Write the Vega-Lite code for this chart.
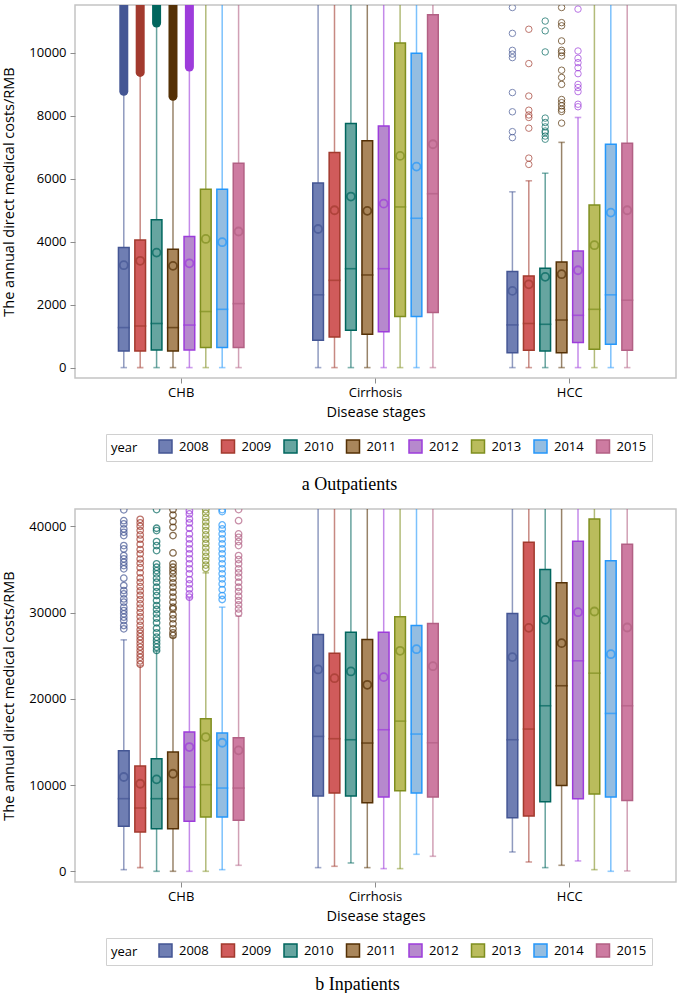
{
  "$schema": "https://vega.github.io/schema/vega-lite/v6.json",
  "padding": {"left": 1, "top": 4, "right": 5, "bottom": 0},
  "background": "white",
  "config": {
    "view": {"stroke": "#c4c4c4", "strokeWidth": 1.5},
    "axis": {
      "labelFont": "Open Sans", "labelFontSize": 13, "labelColor": "#000",
      "titleFont": "Open Sans", "titleFontSize": 14.5, "titleFontWeight": "normal", "titleColor": "#000",
      "grid": false, "domain": false, "tickColor": "#8c8c8c", "tickSize": 5, "tickWidth": 1
    },
    "legend": {
      "direction": "horizontal", "titleOrient": "left",
      "symbolType": "square", "symbolSize": 169, "symbolStrokeWidth": 1.5, "symbolOpacity": 1,
      "labelFont": "Open Sans", "labelFontSize": 13, "labelColor": "#000",
      "titleFont": "Open Sans", "titleFontSize": 13, "titleFontWeight": "normal", "titleColor": "#000",
      "strokeColor": "#d0d0d0", "padding": 5, "columnPadding": 9.5, "labelOffset": 6, "titlePadding": 20
    },
    "title": {"font": "Liberation Serif", "fontSize": 18, "fontWeight": "normal", "color": "#000"}
  },
  "datasets": {
    "out_box": [
      {"stage": "CHB", "year": "2008", "low": 0, "q1": 530, "median": 1270, "q3": 3810, "high": 8770, "mean": 3250},
      {"stage": "CHB", "year": "2009", "low": 0, "q1": 530, "median": 1320, "q3": 4050, "high": 9370, "mean": 3390},
      {"stage": "CHB", "year": "2010", "low": 0, "q1": 560, "median": 1400, "q3": 4690, "high": 10940, "mean": 3650},
      {"stage": "CHB", "year": "2011", "low": 0, "q1": 530, "median": 1270, "q3": 3760, "high": 8610, "mean": 3230},
      {"stage": "CHB", "year": "2012", "low": 0, "q1": 560, "median": 1350, "q3": 4160, "high": 9540, "mean": 3310},
      {"stage": "CHB", "year": "2013", "low": 0, "q1": 635, "median": 1780, "q3": 5660, "high": 13000, "mean": 4085},
      {"stage": "CHB", "year": "2014", "low": 0, "q1": 635, "median": 1850, "q3": 5660, "high": 13000, "mean": 3980},
      {"stage": "CHB", "year": "2015", "low": 0, "q1": 635, "median": 2030, "q3": 6490, "high": 13000, "mean": 4320},
      {"stage": "Cirrhosis", "year": "2008", "low": 0, "q1": 870, "median": 2310, "q3": 5860, "high": 13000, "mean": 4400},
      {"stage": "Cirrhosis", "year": "2009", "low": 0, "q1": 975, "median": 2770, "q3": 6830, "high": 13000, "mean": 4995},
      {"stage": "Cirrhosis", "year": "2010", "low": 0, "q1": 1185, "median": 3140, "q3": 7750, "high": 13000, "mean": 5430},
      {"stage": "Cirrhosis", "year": "2011", "low": 0, "q1": 1060, "median": 2940, "q3": 7200, "high": 13000, "mean": 4975},
      {"stage": "Cirrhosis", "year": "2012", "low": 0, "q1": 1140, "median": 3140, "q3": 7670, "high": 13000, "mean": 5205},
      {"stage": "Cirrhosis", "year": "2013", "low": 0, "q1": 1620, "median": 5100, "q3": 10300, "high": 13000, "mean": 6720},
      {"stage": "Cirrhosis", "year": "2014", "low": 0, "q1": 1620, "median": 4740, "q3": 9980, "high": 13000, "mean": 6380},
      {"stage": "Cirrhosis", "year": "2015", "low": 0, "q1": 1750, "median": 5520, "q3": 11200, "high": 13000, "mean": 7090},
      {"stage": "HCC", "year": "2008", "low": 0, "q1": 475, "median": 1355, "q3": 3050, "high": 5580, "mean": 2435},
      {"stage": "HCC", "year": "2009", "low": 0, "q1": 550, "median": 1400, "q3": 2910, "high": 5930, "mean": 2645},
      {"stage": "HCC", "year": "2010", "low": 0, "q1": 530, "median": 1375, "q3": 3150, "high": 6170, "mean": 2880},
      {"stage": "HCC", "year": "2011", "low": 0, "q1": 475, "median": 1510, "q3": 3355, "high": 7150, "mean": 2965},
      {"stage": "HCC", "year": "2012", "low": 0, "q1": 795, "median": 1660, "q3": 3705, "high": 7940, "mean": 3090},
      {"stage": "HCC", "year": "2013", "low": 0, "q1": 580, "median": 1850, "q3": 5165, "high": 13000, "mean": 3885},
      {"stage": "HCC", "year": "2014", "low": 0, "q1": 740, "median": 2310, "q3": 7090, "high": 13000, "mean": 4920},
      {"stage": "HCC", "year": "2015", "low": 0, "q1": 550, "median": 2140, "q3": 7120, "high": 13000, "mean": 4995}
    ],
    "out_dense": [
      {"stage": "CHB", "year": "2008", "from": 8770, "to": 12500},
      {"stage": "CHB", "year": "2009", "from": 9370, "to": 12500},
      {"stage": "CHB", "year": "2010", "from": 10940, "to": 12500},
      {"stage": "CHB", "year": "2011", "from": 8610, "to": 12500},
      {"stage": "CHB", "year": "2012", "from": 9540, "to": 12500}
    ],
    "out_outliers": [
      {"stage": "HCC", "year": "2008", "value": 11430}, {"stage": "HCC", "year": "2008", "value": 10610}, {"stage": "HCC", "year": "2008", "value": 10070},
      {"stage": "HCC", "year": "2008", "value": 9950}, {"stage": "HCC", "year": "2008", "value": 9840}, {"stage": "HCC", "year": "2008", "value": 8730},
      {"stage": "HCC", "year": "2008", "value": 8120}, {"stage": "HCC", "year": "2008", "value": 7490}, {"stage": "HCC", "year": "2008", "value": 7300},
      {"stage": "HCC", "year": "2009", "value": 10740}, {"stage": "HCC", "year": "2009", "value": 9650}, {"stage": "HCC", "year": "2009", "value": 8620},
      {"stage": "HCC", "year": "2009", "value": 8170}, {"stage": "HCC", "year": "2009", "value": 8020}, {"stage": "HCC", "year": "2009", "value": 7940},
      {"stage": "HCC", "year": "2009", "value": 7600}, {"stage": "HCC", "year": "2009", "value": 6650}, {"stage": "HCC", "year": "2009", "value": 6450},
      {"stage": "HCC", "year": "2010", "value": 11000}, {"stage": "HCC", "year": "2010", "value": 10690}, {"stage": "HCC", "year": "2010", "value": 10020},
      {"stage": "HCC", "year": "2010", "value": 7920}, {"stage": "HCC", "year": "2010", "value": 7780}, {"stage": "HCC", "year": "2010", "value": 7640},
      {"stage": "HCC", "year": "2010", "value": 7510}, {"stage": "HCC", "year": "2010", "value": 7460}, {"stage": "HCC", "year": "2010", "value": 7350},
      {"stage": "HCC", "year": "2010", "value": 7250},
      {"stage": "HCC", "year": "2011", "value": 11430}, {"stage": "HCC", "year": "2011", "value": 10950}, {"stage": "HCC", "year": "2011", "value": 10850},
      {"stage": "HCC", "year": "2011", "value": 10370}, {"stage": "HCC", "year": "2011", "value": 10070}, {"stage": "HCC", "year": "2011", "value": 10000},
      {"stage": "HCC", "year": "2011", "value": 9890}, {"stage": "HCC", "year": "2011", "value": 9440}, {"stage": "HCC", "year": "2011", "value": 9210},
      {"stage": "HCC", "year": "2011", "value": 8990}, {"stage": "HCC", "year": "2011", "value": 8510}, {"stage": "HCC", "year": "2011", "value": 8410},
      {"stage": "HCC", "year": "2011", "value": 8310}, {"stage": "HCC", "year": "2011", "value": 8200}, {"stage": "HCC", "year": "2011", "value": 8130},
      {"stage": "HCC", "year": "2011", "value": 7760},
      {"stage": "HCC", "year": "2012", "value": 11380}, {"stage": "HCC", "year": "2012", "value": 10050}, {"stage": "HCC", "year": "2012", "value": 9820},
      {"stage": "HCC", "year": "2012", "value": 9680}, {"stage": "HCC", "year": "2012", "value": 9520}, {"stage": "HCC", "year": "2012", "value": 9330},
      {"stage": "HCC", "year": "2012", "value": 8990}, {"stage": "HCC", "year": "2012", "value": 8890}, {"stage": "HCC", "year": "2012", "value": 8760},
      {"stage": "HCC", "year": "2012", "value": 8360}, {"stage": "HCC", "year": "2012", "value": 8280}
    ],
    "in_box": [
      {"stage": "CHB", "year": "2008", "low": 190, "q1": 5210, "median": 8420, "q3": 13980, "high": 26830, "mean": 10930},
      {"stage": "CHB", "year": "2009", "low": 425, "q1": 4560, "median": 7340, "q3": 12200, "high": 23860, "mean": 10150},
      {"stage": "CHB", "year": "2010", "low": 0, "q1": 4940, "median": 8420, "q3": 13050, "high": 25520, "mean": 10660},
      {"stage": "CHB", "year": "2011", "low": 0, "q1": 4940, "median": 8420, "q3": 13820, "high": 27140, "mean": 11310},
      {"stage": "CHB", "year": "2012", "low": 0, "q1": 5790, "median": 9770, "q3": 16140, "high": 31700, "mean": 14400},
      {"stage": "CHB", "year": "2013", "low": 0, "q1": 6290, "median": 10040, "q3": 17680, "high": 34600, "mean": 15560},
      {"stage": "CHB", "year": "2014", "low": 190, "q1": 6290, "median": 9650, "q3": 16020, "high": 30620, "mean": 14900},
      {"stage": "CHB", "year": "2015", "low": 695, "q1": 5910, "median": 9650, "q3": 15480, "high": 29580, "mean": 14020},
      {"stage": "Cirrhosis", "year": "2008", "low": 425, "q1": 8730, "median": 15640, "q3": 27450, "high": 50000, "mean": 23400},
      {"stage": "Cirrhosis", "year": "2009", "low": 580, "q1": 9070, "median": 15370, "q3": 25290, "high": 50000, "mean": 22390},
      {"stage": "Cirrhosis", "year": "2010", "low": 965, "q1": 8730, "median": 15250, "q3": 27720, "high": 50000, "mean": 23170},
      {"stage": "Cirrhosis", "year": "2011", "low": 425, "q1": 7950, "median": 14870, "q3": 26870, "high": 50000, "mean": 21620},
      {"stage": "Cirrhosis", "year": "2012", "low": 310, "q1": 8610, "median": 16410, "q3": 27720, "high": 50000, "mean": 22510},
      {"stage": "Cirrhosis", "year": "2013", "low": 310, "q1": 9340, "median": 17410, "q3": 29500, "high": 50000, "mean": 25560},
      {"stage": "Cirrhosis", "year": "2014", "low": 1970, "q1": 9070, "median": 15910, "q3": 28490, "high": 50000, "mean": 25750},
      {"stage": "Cirrhosis", "year": "2015", "low": 1740, "q1": 8610, "median": 14900, "q3": 28730, "high": 50000, "mean": 23780},
      {"stage": "HCC", "year": "2008", "low": 2240, "q1": 6220, "median": 15250, "q3": 29880, "high": 50000, "mean": 24830},
      {"stage": "HCC", "year": "2009", "low": 1080, "q1": 6410, "median": 16490, "q3": 38150, "high": 50000, "mean": 28220},
      {"stage": "HCC", "year": "2010", "low": 425, "q1": 8070, "median": 19190, "q3": 34980, "high": 50000, "mean": 29150},
      {"stage": "HCC", "year": "2011", "low": 695, "q1": 9960, "median": 21510, "q3": 33440, "high": 50000, "mean": 26450},
      {"stage": "HCC", "year": "2012", "low": 1200, "q1": 8420, "median": 24400, "q3": 38260, "high": 50000, "mean": 30040},
      {"stage": "HCC", "year": "2013", "low": 190, "q1": 8960, "median": 22970, "q3": 40850, "high": 50000, "mean": 30120},
      {"stage": "HCC", "year": "2014", "low": 0, "q1": 8610, "median": 18300, "q3": 35990, "high": 50000, "mean": 25170},
      {"stage": "HCC", "year": "2015", "low": 40, "q1": 8220, "median": 19190, "q3": 37920, "high": 50000, "mean": 28260}
    ],
    "in_outliers": [
      {"stage": "CHB", "year": "2008", "value": 41900}, {"stage": "CHB", "year": "2008", "value": 40650}, {"stage": "CHB", "year": "2008", "value": 40270},
      {"stage": "CHB", "year": "2008", "value": 39690}, {"stage": "CHB", "year": "2008", "value": 39300}, {"stage": "CHB", "year": "2008", "value": 38920},
      {"stage": "CHB", "year": "2008", "value": 37760}, {"stage": "CHB", "year": "2008", "value": 37370}, {"stage": "CHB", "year": "2008", "value": 36600},
      {"stage": "CHB", "year": "2008", "value": 36220}, {"stage": "CHB", "year": "2008", "value": 35830}, {"stage": "CHB", "year": "2008", "value": 35440},
      {"stage": "CHB", "year": "2008", "value": 35060}, {"stage": "CHB", "year": "2008", "value": 33980}, {"stage": "CHB", "year": "2008", "value": 33130},
      {"stage": "CHB", "year": "2008", "value": 32550}, {"stage": "CHB", "year": "2008", "value": 32160}, {"stage": "CHB", "year": "2008", "value": 31580},
      {"stage": "CHB", "year": "2008", "value": 31200}, {"stage": "CHB", "year": "2008", "value": 30620}, {"stage": "CHB", "year": "2008", "value": 30230},
      {"stage": "CHB", "year": "2008", "value": 29850}, {"stage": "CHB", "year": "2008", "value": 29460}, {"stage": "CHB", "year": "2008", "value": 29070},
      {"stage": "CHB", "year": "2008", "value": 28490}, {"stage": "CHB", "year": "2008", "value": 28110},
      {"stage": "CHB", "year": "2009", "value": 40800}, {"stage": "CHB", "year": "2009", "value": 40400}, {"stage": "CHB", "year": "2009", "value": 40000},
      {"stage": "CHB", "year": "2009", "value": 39500}, {"stage": "CHB", "year": "2009", "value": 39000}, {"stage": "CHB", "year": "2009", "value": 38500},
      {"stage": "CHB", "year": "2009", "value": 37900}, {"stage": "CHB", "year": "2009", "value": 37300}, {"stage": "CHB", "year": "2009", "value": 36800},
      {"stage": "CHB", "year": "2009", "value": 36200}, {"stage": "CHB", "year": "2009", "value": 35700}, {"stage": "CHB", "year": "2009", "value": 35200},
      {"stage": "CHB", "year": "2009", "value": 34600}, {"stage": "CHB", "year": "2009", "value": 34000}, {"stage": "CHB", "year": "2009", "value": 33500},
      {"stage": "CHB", "year": "2009", "value": 33000}, {"stage": "CHB", "year": "2009", "value": 32500}, {"stage": "CHB", "year": "2009", "value": 32000},
      {"stage": "CHB", "year": "2009", "value": 31500}, {"stage": "CHB", "year": "2009", "value": 31000}, {"stage": "CHB", "year": "2009", "value": 30500},
      {"stage": "CHB", "year": "2009", "value": 30000}, {"stage": "CHB", "year": "2009", "value": 29500}, {"stage": "CHB", "year": "2009", "value": 29000},
      {"stage": "CHB", "year": "2009", "value": 28500}, {"stage": "CHB", "year": "2009", "value": 28000}, {"stage": "CHB", "year": "2009", "value": 27600},
      {"stage": "CHB", "year": "2009", "value": 27200}, {"stage": "CHB", "year": "2009", "value": 26800}, {"stage": "CHB", "year": "2009", "value": 26400},
      {"stage": "CHB", "year": "2009", "value": 26000}, {"stage": "CHB", "year": "2009", "value": 25600}, {"stage": "CHB", "year": "2009", "value": 25200},
      {"stage": "CHB", "year": "2009", "value": 24800}, {"stage": "CHB", "year": "2009", "value": 24400}, {"stage": "CHB", "year": "2009", "value": 24000},
      {"stage": "CHB", "year": "2010", "value": 41930}, {"stage": "CHB", "year": "2010", "value": 39770}, {"stage": "CHB", "year": "2010", "value": 39500},
      {"stage": "CHB", "year": "2010", "value": 38220}, {"stage": "CHB", "year": "2010", "value": 37760}, {"stage": "CHB", "year": "2010", "value": 37180},
      {"stage": "CHB", "year": "2010", "value": 35640}, {"stage": "CHB", "year": "2010", "value": 35250}, {"stage": "CHB", "year": "2010", "value": 34860},
      {"stage": "CHB", "year": "2010", "value": 34480}, {"stage": "CHB", "year": "2010", "value": 33980}, {"stage": "CHB", "year": "2010", "value": 33510},
      {"stage": "CHB", "year": "2010", "value": 32930}, {"stage": "CHB", "year": "2010", "value": 32430}, {"stage": "CHB", "year": "2010", "value": 31970},
      {"stage": "CHB", "year": "2010", "value": 31390}, {"stage": "CHB", "year": "2010", "value": 30810}, {"stage": "CHB", "year": "2010", "value": 30350},
      {"stage": "CHB", "year": "2010", "value": 29850}, {"stage": "CHB", "year": "2010", "value": 29340}, {"stage": "CHB", "year": "2010", "value": 28800},
      {"stage": "CHB", "year": "2010", "value": 28180}, {"stage": "CHB", "year": "2010", "value": 27650}, {"stage": "CHB", "year": "2010", "value": 27140},
      {"stage": "CHB", "year": "2010", "value": 26760}, {"stage": "CHB", "year": "2010", "value": 26370}, {"stage": "CHB", "year": "2010", "value": 25980},
      {"stage": "CHB", "year": "2010", "value": 25600},
      {"stage": "CHB", "year": "2011", "value": 41930}, {"stage": "CHB", "year": "2011", "value": 41300}, {"stage": "CHB", "year": "2011", "value": 40540},
      {"stage": "CHB", "year": "2011", "value": 39880}, {"stage": "CHB", "year": "2011", "value": 38920}, {"stage": "CHB", "year": "2011", "value": 36910},
      {"stage": "CHB", "year": "2011", "value": 35640}, {"stage": "CHB", "year": "2011", "value": 35250}, {"stage": "CHB", "year": "2011", "value": 34860},
      {"stage": "CHB", "year": "2011", "value": 34480}, {"stage": "CHB", "year": "2011", "value": 33980}, {"stage": "CHB", "year": "2011", "value": 33440},
      {"stage": "CHB", "year": "2011", "value": 32930}, {"stage": "CHB", "year": "2011", "value": 32350}, {"stage": "CHB", "year": "2011", "value": 31780},
      {"stage": "CHB", "year": "2011", "value": 31200}, {"stage": "CHB", "year": "2011", "value": 30620}, {"stage": "CHB", "year": "2011", "value": 30420},
      {"stage": "CHB", "year": "2011", "value": 29730}, {"stage": "CHB", "year": "2011", "value": 29270}, {"stage": "CHB", "year": "2011", "value": 28690},
      {"stage": "CHB", "year": "2011", "value": 28110}, {"stage": "CHB", "year": "2011", "value": 27650}, {"stage": "CHB", "year": "2011", "value": 27340},
      {"stage": "CHB", "year": "2012", "value": 41800}, {"stage": "CHB", "year": "2012", "value": 41430}, {"stage": "CHB", "year": "2012", "value": 40850},
      {"stage": "CHB", "year": "2012", "value": 40390}, {"stage": "CHB", "year": "2012", "value": 39770}, {"stage": "CHB", "year": "2012", "value": 39110},
      {"stage": "CHB", "year": "2012", "value": 38530}, {"stage": "CHB", "year": "2012", "value": 37950}, {"stage": "CHB", "year": "2012", "value": 37370},
      {"stage": "CHB", "year": "2012", "value": 36800}, {"stage": "CHB", "year": "2012", "value": 36220}, {"stage": "CHB", "year": "2012", "value": 35640},
      {"stage": "CHB", "year": "2012", "value": 35060}, {"stage": "CHB", "year": "2012", "value": 34480}, {"stage": "CHB", "year": "2012", "value": 33820},
      {"stage": "CHB", "year": "2012", "value": 33320}, {"stage": "CHB", "year": "2012", "value": 32740}, {"stage": "CHB", "year": "2012", "value": 32160},
      {"stage": "CHB", "year": "2012", "value": 31780},
      {"stage": "CHB", "year": "2013", "value": 41900}, {"stage": "CHB", "year": "2013", "value": 41500}, {"stage": "CHB", "year": "2013", "value": 41000},
      {"stage": "CHB", "year": "2013", "value": 40500}, {"stage": "CHB", "year": "2013", "value": 40000}, {"stage": "CHB", "year": "2013", "value": 39500},
      {"stage": "CHB", "year": "2013", "value": 39000}, {"stage": "CHB", "year": "2013", "value": 38500}, {"stage": "CHB", "year": "2013", "value": 38000},
      {"stage": "CHB", "year": "2013", "value": 37500}, {"stage": "CHB", "year": "2013", "value": 37000}, {"stage": "CHB", "year": "2013", "value": 36500},
      {"stage": "CHB", "year": "2013", "value": 36000}, {"stage": "CHB", "year": "2013", "value": 35500}, {"stage": "CHB", "year": "2013", "value": 35100},
      {"stage": "CHB", "year": "2014", "value": 41930}, {"stage": "CHB", "year": "2014", "value": 41700}, {"stage": "CHB", "year": "2014", "value": 40150},
      {"stage": "CHB", "year": "2014", "value": 39690}, {"stage": "CHB", "year": "2014", "value": 39110}, {"stage": "CHB", "year": "2014", "value": 38530},
      {"stage": "CHB", "year": "2014", "value": 37950}, {"stage": "CHB", "year": "2014", "value": 37370}, {"stage": "CHB", "year": "2014", "value": 36800},
      {"stage": "CHB", "year": "2014", "value": 36220}, {"stage": "CHB", "year": "2014", "value": 35640}, {"stage": "CHB", "year": "2014", "value": 35060},
      {"stage": "CHB", "year": "2014", "value": 34480}, {"stage": "CHB", "year": "2014", "value": 33900}, {"stage": "CHB", "year": "2014", "value": 33320},
      {"stage": "CHB", "year": "2014", "value": 32660}, {"stage": "CHB", "year": "2014", "value": 31970}, {"stage": "CHB", "year": "2014", "value": 31510},
      {"stage": "CHB", "year": "2015", "value": 41930}, {"stage": "CHB", "year": "2015", "value": 40650}, {"stage": "CHB", "year": "2015", "value": 39110},
      {"stage": "CHB", "year": "2015", "value": 38720}, {"stage": "CHB", "year": "2015", "value": 38220}, {"stage": "CHB", "year": "2015", "value": 37760},
      {"stage": "CHB", "year": "2015", "value": 36600}, {"stage": "CHB", "year": "2015", "value": 36140}, {"stage": "CHB", "year": "2015", "value": 35640},
      {"stage": "CHB", "year": "2015", "value": 35060}, {"stage": "CHB", "year": "2015", "value": 34600}, {"stage": "CHB", "year": "2015", "value": 34090},
      {"stage": "CHB", "year": "2015", "value": 33510}, {"stage": "CHB", "year": "2015", "value": 32930}, {"stage": "CHB", "year": "2015", "value": 32430},
      {"stage": "CHB", "year": "2015", "value": 31890}, {"stage": "CHB", "year": "2015", "value": 31390}, {"stage": "CHB", "year": "2015", "value": 30890},
      {"stage": "CHB", "year": "2015", "value": 30420}, {"stage": "CHB", "year": "2015", "value": 29920}
    ]
  },
  "spacing": 13,
  "resolve": {
    "scale": {"x": "independent", "xOffset": "independent", "y": "independent", "fill": "independent", "stroke": "independent"},
    "legend": {"fill": "independent", "stroke": "independent"}
  },
  "vconcat": [
    {
      "width": 601,
      "height": 373,
      "title": {"text": "a  Outpatients", "orient": "bottom", "anchor": "middle", "offset": 14, "dx": -26},
      "encoding": {
        "x": {"field": "stage", "type": "nominal", "title": "Disease stages",
              "scale": {"domain": ["CHB", "Cirrhosis", "HCC"], "paddingInner": 0.329, "paddingOuter": 0.211},
              "axis": {"labelAngle": 0, "labelPadding": 3, "titlePadding": 6}},
        "xOffset": {"field": "year", "type": "nominal", "scale": {"paddingInner": 0.348, "paddingOuter": 0.149}},
        "stroke": {"field": "year", "type": "nominal", "title": "year",
                   "legend": {"orient": "none", "legendX": 31, "legendY": 429, "direction": "horizontal"},
                   "scale": {"domain": ["2008","2009","2010","2011","2012","2013","2014","2015"],
                             "range": ["#445694","#A23A2E","#01665E","#543005","#9D3CDB","#7F8E1F","#2597FA","#B26084"]}}
      },
      "layer": [
        {
          "data": {"name": "out_box"},
          "mark": {"type": "rule", "strokeWidth": 1.5, "strokeOpacity": 0.6, "clip": true},
          "encoding": {
            "y": {"field": "low", "type": "quantitative", "title": "The annual direct medical costs/RMB",
                  "scale": {"domain": [-330, 11510], "nice": false, "zero": false},
                  "axis": {"values": [0, 2000, 4000, 6000, 8000, 10000], "format": "d", "labelPadding": 4, "titlePadding": 12}},
            "y2": {"field": "high"}
          }
        },
        {
          "data": {"name": "out_box"},
          "mark": {"type": "tick", "size": 5, "thickness": 0.1, "filled": false, "strokeWidth": 1.5, "strokeOpacity": 0.7, "clip": true},
          "encoding": {"y": {"field": "low", "type": "quantitative", "title": "The annual direct medical costs/RMB", "scale": {"domain": [-330, 11510], "nice": false, "zero": false}}}
        },
        {
          "data": {"name": "out_box"},
          "mark": {"type": "tick", "size": 5, "thickness": 0.1, "filled": false, "strokeWidth": 1.5, "strokeOpacity": 0.7, "clip": true},
          "encoding": {"y": {"field": "high", "type": "quantitative", "title": "The annual direct medical costs/RMB", "scale": {"domain": [-330, 11510], "nice": false, "zero": false}}}
        },
        {
          "data": {"name": "out_box"},
          "mark": {"type": "bar", "strokeWidth": 1.5, "clip": true},
          "encoding": {
            "y": {"field": "q1", "type": "quantitative", "title": "The annual direct medical costs/RMB", "scale": {"domain": [-330, 11510], "nice": false, "zero": false}},
            "y2": {"field": "q3"},
            "fill": {"field": "year", "type": "nominal", "title": "year",
                     "legend": {"orient": "none", "legendX": 31, "legendY": 429, "direction": "horizontal"},
                     "scale": {"domain": ["2008","2009","2010","2011","2012","2013","2014","2015"],
                               "range": ["#6F7EB3","#D05B5B","#66A5A0","#A9865B","#B689CD","#BABC5C","#94BDE1","#CD7BA1"]}}
          }
        },
        {
          "data": {"name": "out_box"},
          "mark": {"type": "tick", "size": 10.7, "thickness": 0.1, "filled": false, "strokeWidth": 1.5, "clip": true},
          "encoding": {"y": {"field": "median", "type": "quantitative", "title": "The annual direct medical costs/RMB", "scale": {"domain": [-330, 11510], "nice": false, "zero": false}}}
        },
        {
          "data": {"name": "out_box"},
          "mark": {"type": "point", "shape": "circle", "filled": false, "size": 64, "strokeWidth": 1.8, "clip": true},
          "encoding": {"y": {"field": "mean", "type": "quantitative", "title": "The annual direct medical costs/RMB", "scale": {"domain": [-330, 11510], "nice": false, "zero": false}}}
        },
        {
          "data": {"name": "out_dense"},
          "mark": {"type": "rule", "strokeWidth": 9, "strokeCap": "round", "clip": true},
          "encoding": {
            "y": {"field": "from", "type": "quantitative", "title": "The annual direct medical costs/RMB", "scale": {"domain": [-330, 11510], "nice": false, "zero": false}},
            "y2": {"field": "to"}
          }
        },
        {
          "data": {"name": "out_outliers"},
          "mark": {"type": "point", "shape": "circle", "filled": false, "size": 42, "strokeWidth": 1, "clip": true},
          "encoding": {"y": {"field": "value", "type": "quantitative", "title": "The annual direct medical costs/RMB", "scale": {"domain": [-330, 11510], "nice": false, "zero": false}}}
        }
      ]
    },
    {
      "width": 601,
      "height": 373,
      "title": {"text": "b  Inpatients", "orient": "bottom", "anchor": "middle", "offset": 10, "dx": -18},
      "encoding": {
        "x": {"field": "stage", "type": "nominal", "title": "Disease stages",
              "scale": {"domain": ["CHB", "Cirrhosis", "HCC"], "paddingInner": 0.329, "paddingOuter": 0.211},
              "axis": {"labelAngle": 0, "labelPadding": 3, "titlePadding": 6}},
        "xOffset": {"field": "year", "type": "nominal", "scale": {"paddingInner": 0.348, "paddingOuter": 0.149}},
        "stroke": {"field": "year", "type": "nominal", "title": "year",
                   "legend": {"orient": "none", "legendX": 31, "legendY": 429, "direction": "horizontal"},
                   "scale": {"domain": ["2008","2009","2010","2011","2012","2013","2014","2015"],
                             "range": ["#445694","#A23A2E","#01665E","#543005","#9D3CDB","#7F8E1F","#2597FA","#B26084"]}}
      },
      "layer": [
        {
          "data": {"name": "in_box"},
          "mark": {"type": "rule", "strokeWidth": 1.5, "strokeOpacity": 0.6, "clip": true},
          "encoding": {
            "y": {"field": "low", "type": "quantitative", "title": "The annual direct medical costs/RMB",
                  "scale": {"domain": [-1240, 42000], "nice": false, "zero": false},
                  "axis": {"values": [0, 10000, 20000, 30000, 40000], "format": "d", "labelPadding": 4, "titlePadding": 12}},
            "y2": {"field": "high"}
          }
        },
        {
          "data": {"name": "in_box"},
          "mark": {"type": "tick", "size": 5, "thickness": 0.1, "filled": false, "strokeWidth": 1.5, "strokeOpacity": 0.7, "clip": true},
          "encoding": {"y": {"field": "low", "type": "quantitative", "title": "The annual direct medical costs/RMB", "scale": {"domain": [-1240, 42000], "nice": false, "zero": false}}}
        },
        {
          "data": {"name": "in_box"},
          "mark": {"type": "tick", "size": 5, "thickness": 0.1, "filled": false, "strokeWidth": 1.5, "strokeOpacity": 0.7, "clip": true},
          "encoding": {"y": {"field": "high", "type": "quantitative", "title": "The annual direct medical costs/RMB", "scale": {"domain": [-1240, 42000], "nice": false, "zero": false}}}
        },
        {
          "data": {"name": "in_box"},
          "mark": {"type": "bar", "strokeWidth": 1.5, "clip": true},
          "encoding": {
            "y": {"field": "q1", "type": "quantitative", "title": "The annual direct medical costs/RMB", "scale": {"domain": [-1240, 42000], "nice": false, "zero": false}},
            "y2": {"field": "q3"},
            "fill": {"field": "year", "type": "nominal", "title": "year",
                     "legend": {"orient": "none", "legendX": 31, "legendY": 429, "direction": "horizontal"},
                     "scale": {"domain": ["2008","2009","2010","2011","2012","2013","2014","2015"],
                               "range": ["#6F7EB3","#D05B5B","#66A5A0","#A9865B","#B689CD","#BABC5C","#94BDE1","#CD7BA1"]}}
          }
        },
        {
          "data": {"name": "in_box"},
          "mark": {"type": "tick", "size": 10.7, "thickness": 0.1, "filled": false, "strokeWidth": 1.5, "clip": true},
          "encoding": {"y": {"field": "median", "type": "quantitative", "title": "The annual direct medical costs/RMB", "scale": {"domain": [-1240, 42000], "nice": false, "zero": false}}}
        },
        {
          "data": {"name": "in_box"},
          "mark": {"type": "point", "shape": "circle", "filled": false, "size": 64, "strokeWidth": 1.8, "clip": true},
          "encoding": {"y": {"field": "mean", "type": "quantitative", "title": "The annual direct medical costs/RMB", "scale": {"domain": [-1240, 42000], "nice": false, "zero": false}}}
        },
        {
          "data": {"name": "in_outliers"},
          "mark": {"type": "point", "shape": "circle", "filled": false, "size": 42, "strokeWidth": 1.3, "clip": true},
          "encoding": {"y": {"field": "value", "type": "quantitative", "title": "The annual direct medical costs/RMB", "scale": {"domain": [-1240, 42000], "nice": false, "zero": false}}}
        }
      ]
    }
  ]
}
